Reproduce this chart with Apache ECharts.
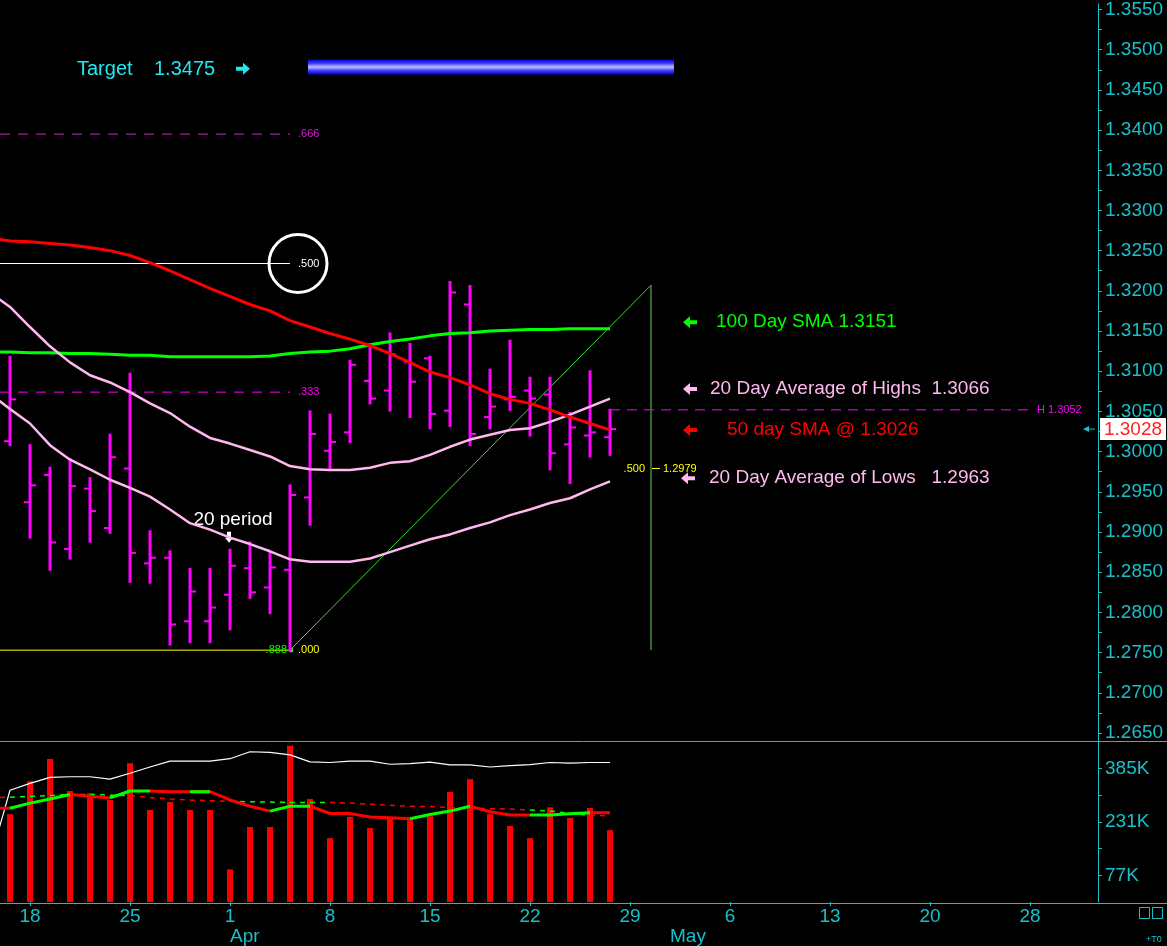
<!DOCTYPE html>
<html>
<head>
<meta charset="utf-8">
<title>EUR/USD daily</title>
<style>
  html, body { margin: 0; padding: 0; background: #000; }
  #main { width: 1167px; height: 946px; }
</style>
</head>
<body>
<div id="main"></div>
<script src="https://cdn.jsdelivr.net/npm/echarts@6.0.0/dist/echarts.min.js"></script>
<script>
// one slot per trading day, slot 0 = Fri 15 Mar
var opens  = [1.3013, 1.2937, 1.2971, 1.2879, 1.2954, 1.2905, 1.2979, 1.2861, 1.2868, 1.2789, 1.2789,
              1.2822, 1.2855, 1.2831, 1.2853, 1.2943, 1.3001, 1.3024, 1.3088, 1.3076, 1.3112,
              1.3116, 1.3051, 1.3183, 1.3043, 1.3065, 1.3076, 1.3071, 1.3009, 1.3020, 1.3018];
var highs  = [1.3118, 1.3008, 1.2980, 1.2991, 1.2967, 1.3021, 1.3097, 1.2901, 1.2876, 1.2854, 1.2854,
              1.2878, 1.2887, 1.2875, 1.2958, 1.3050, 1.3046, 1.3113, 1.3131, 1.3147, 1.3134,
              1.3118, 1.3211, 1.3206, 1.3102, 1.3138, 1.3092, 1.3092, 1.3048, 1.3100, 1.3052];
var lows   = [1.3008, 1.2893, 1.2853, 1.2867, 1.2888, 1.2899, 1.2838, 1.2837, 1.2760, 1.2763, 1.2763,
              1.2779, 1.2818, 1.2799, 1.2753, 1.2909, 1.2977, 1.3012, 1.3060, 1.3051, 1.3043,
              1.3029, 1.3032, 1.3008, 1.3029, 1.3052, 1.3020, 1.2978, 1.2961, 1.2994, 1.2996];
var closes = [1.3065, 1.2958, 1.2887, 1.2957, 1.2926, 1.2993, 1.2874, 1.2868, 1.2785, 1.2826, 1.2806,
              1.2858, 1.2825, 1.2856, 1.2946, 1.3022, 1.3012, 1.3108, 1.3066, 1.3121, 1.3087,
              1.3047, 1.3198, 1.3022, 1.3056, 1.3068, 1.3066, 1.2998, 1.3030, 1.3024, 1.3028];

// averages start one slot earlier (slot -1) so they run into the left edge
var sma100 = [1.3124, 1.3124, 1.3123, 1.3123, 1.3122, 1.3122, 1.3121, 1.3120, 1.3120, 1.3118, 1.3118,
              1.3118, 1.3118, 1.3118, 1.3119, 1.3122, 1.3124, 1.3125, 1.3128, 1.3133, 1.3137,
              1.3140, 1.3144, 1.3147, 1.3148, 1.3150, 1.3151, 1.3152, 1.3152, 1.3153, 1.3153, 1.3153];
var sma50  = [1.3266, 1.3262, 1.3261, 1.3259, 1.3257, 1.3254, 1.3250, 1.3244, 1.3235, 1.3225, 1.3214,
              1.3203, 1.3193, 1.3183, 1.3175, 1.3163, 1.3155, 1.3147, 1.3140, 1.3132, 1.3122,
              1.3111, 1.3099, 1.3092, 1.3083, 1.3072, 1.3065, 1.3060, 1.3052, 1.3043, 1.3035, 1.3027];
var avgHighs = [1.3198, 1.3180, 1.3155, 1.3131, 1.3111, 1.3095, 1.3086, 1.3074, 1.3060, 1.3048, 1.3031,
                1.3017, 1.3010, 1.3002, 1.2994, 1.2982, 1.2978, 1.2977, 1.2977, 1.2980, 1.2986,
                1.2988, 1.2996, 1.3006, 1.3015, 1.3021, 1.3027, 1.3029, 1.3037, 1.3046, 1.3056, 1.3066];
var avgLows  = [1.3072, 1.3053, 1.3035, 1.3008, 1.2990, 1.2978, 1.2965, 1.2955, 1.2944, 1.2928, 1.2911,
                1.2903, 1.2893, 1.2885, 1.2876, 1.2866, 1.2863, 1.2863, 1.2863, 1.2867, 1.2875,
                1.2883, 1.2891, 1.2897, 1.2905, 1.2912, 1.2921, 1.2928, 1.2936, 1.2942, 1.2953, 1.2963];

// volume (K), slot 0..30
var volume = [253, 348, 412, 320, 313, 294, 400, 265, 288, 265, 265,
              94, 216, 216, 450, 297, 184, 245, 213, 245, 236,
              247, 317, 354, 253, 219, 184, 273, 242, 271, 207];
// volume studies, slot -1..30
var volUpper = [120, 322, 342, 359, 361, 361, 354, 371, 389, 406, 406,
                406, 413, 433, 431, 424, 404, 402, 406, 406, 397,
                399, 403, 395, 395, 389, 393, 396, 402, 400, 402, 402];
var volAvg   = [270, 270, 285, 297, 310, 305, 300, 320, 320, 318, 318,
                318, 294, 276, 262, 276, 276, 255, 255, 245, 243,
                240, 252, 262, 276, 260, 251, 251, 251, 254, 257, 257];
// colour of the segment that ends at slot 0..30 (g = green, r = red)
var volAvgUp = ['r','g','g','g','r','r','g','g','r','r','g',
                'r','r','r','g','g','r','r','r','r','r',
                'g','g','g','r','r','r','g','g','g','r'];
var volAvgLong = [301, 302, 304, 307, 310, 310, 308, 307, 301, 297, 294,
                  292, 290, 289, 288, 287, 287, 287, 285, 282, 279,
                  276, 275, 272, 270, 269, 268, 265, 262, 256, 250, 248];
var volAvgLongUp = ['r','g','g','g','g','g','g','r','r','r','r',
                    'r','g','g','g','g','g','r','r','r','r',
                    'r','r','r','r','r','r','g','g','g','r'];

// retracement of the swing
var fibLevels = [1.3395, 1.3234, 1.3074, 1.2753];
var fibNames  = ['.666', '.500', '.333', '.000'];
var swingLow  = [14, 1.2753];
var swingHigh = [32.05, 1.3207];
var midLevel  = 1.2979;
var lastHigh  = 1.3052;
var lastPrice = 1.3028;
var targetPrice = 1.3475;
var noteTexts = ['100 Day SMA 1.3151', '20 Day Average of Highs  1.3066',
                 '50 day SMA @ 1.3026', '20 Day Average of Lows   1.2963'];
var notePrices = [1.3161, 1.3078, 1.3027, 1.2968];

// axis labels
var dayTickIdx  = [1, 6, 11, 16, 21, 26, 31, 36, 41, 46, 51];
var dayTickText = ['18', '25', '1', '8', '15', '22', '29', '6', '13', '20', '28'];
var monthIdx  = [11, 33];
var monthText = ['Apr', 'May'];
var priceLabels = [1.2650, 1.2700, 1.2750, 1.2800, 1.2850, 1.2900, 1.2950, 1.3000, 1.3050, 1.3100,
                   1.3150, 1.3200, 1.3250, 1.3300, 1.3350, 1.3400, 1.3450, 1.3500, 1.3550];
var volLabels = [77, 231, 385];
var volTicks  = [77, 154, 231, 308, 385];

var CYAN = '#18c0c8', MAG = '#ff00ff', PINK = '#ffb8f0', GREEN = '#00ff00', RED = '#ff0000', YEL = '#ffff00';
var FONT = '"Liberation Sans", Arial, sans-serif';
var X_MIN = -0.5, X_MAX = 54.4;

function withSlots(arr, start) {
  return arr.map(function (v, i) { return [i + start, v]; });
}
// keep only the points that belong to segments of one colour (values start at slot -1)
function colourRun(values, flags, want) {
  return values.map(function (v, m) {
    var slot = m - 1;
    var keep = flags[slot] === want || flags[slot + 1] === want;
    return [slot, keep ? v : '-'];
  });
}
var priceTicks = [];
priceLabels.forEach(function (p, i) {
  priceTicks.push(p);
  if (i < priceLabels.length - 1) priceTicks.push((p + priceLabels[i + 1]) / 2);
});
var ohlcData = opens.map(function (o, i) { return [i, o, highs[i], lows[i], closes[i]]; });

function seg(a, b, style) {
  return { type: 'line', shape: { x1: a[0], y1: a[1], x2: b[0], y2: b[1] }, style: style };
}
function txt(x, y, s, color, size, align) {
  return { type: 'text', x: x, y: y, style: { text: s, fill: color, font: size + 'px ' + FONT,
    align: align || 'left', verticalAlign: 'middle' } };
}
function arrowLeft(cx, cy, color) {
  return { type: 'polygon', shape: { points: [[cx - 7, cy], [cx, cy - 6], [cx, cy - 2], [cx + 7, cy - 2],
    [cx + 7, cy + 2], [cx, cy + 2], [cx, cy + 6]] }, style: { fill: color } };
}
function arrowRight(cx, cy, color) {
  return { type: 'polygon', shape: { points: [[cx + 7, cy], [cx, cy - 6], [cx, cy - 2], [cx - 7, cy - 2],
    [cx - 7, cy + 2], [cx, cy + 2], [cx, cy + 6]] }, style: { fill: color } };
}

// levels, swing lines, target band (under the bars)
function renderLevels(params, api) {
  var ch = [];
  var fibColor = ['#d020d0', '#ffffff', MAG, YEL];
  var fibDash = [[10, 8], null, [10, 8], null];
  fibLevels.forEach(function (p, k) {
    var a = api.coord([X_MIN, p]), b = api.coord([swingLow[0], p]);
    ch.push(seg(a, b, { stroke: fibColor[k], lineWidth: 1, lineDash: fibDash[k] }));
    ch.push(txt(b[0] + 8, b[1], fibNames[k], fibColor[k], 11));
  });
  var lo = api.coord(swingLow), hi = api.coord(swingHigh);
  var base = api.coord([swingHigh[0], swingLow[1]]);
  ch.push(seg(lo, hi, { stroke: '#30e030', lineWidth: 1 }));
  ch.push(seg(hi, base, { stroke: '#60d060', lineWidth: 1 }));
  ch.push(txt(lo[0] - 3, lo[1], '.888', GREEN, 11, 'right'));
  ch.push({ type: 'rect', shape: { x: lo[0] - 1, y: lo[1] - 2, width: 4, height: 4 }, style: { fill: GREEN } });
  var mid = api.coord([swingHigh[0], midLevel]);
  ch.push(txt(mid[0] - 6, mid[1], '.500', YEL, 11, 'right'));
  ch.push(seg([mid[0] + 1, mid[1]], [mid[0] + 9, mid[1]], { stroke: YEL, lineWidth: 1 }));
  ch.push(txt(mid[0] + 12, mid[1], '1.2979', YEL, 11));
  var h0 = api.coord([30, lastHigh]), h1 = api.coord([51, lastHigh]);
  ch.push(seg(h0, h1, { stroke: MAG, lineWidth: 1, lineDash: [10, 7] }));
  ch.push(txt(h1[0] + 7, h1[1], 'H 1.3052', MAG, 11));
  var t0 = api.coord([14.9, 1.34877]), t1 = api.coord([33.2, 1.34692]);
  ch.push({ type: 'rect', shape: { x: t0[0], y: t0[1], width: t1[0] - t0[0], height: t1[1] - t0[1] },
    style: { fill: new echarts.graphic.LinearGradient(0, 0, 0, 1, [
      { offset: 0, color: '#0000d0' }, { offset: 0.25, color: '#3a3aff' },
      { offset: 0.5, color: '#c0c0ff' }, { offset: 0.75, color: '#3a3aff' }, { offset: 1, color: '#0000d0' }]) } });
  var tp = api.coord([3.35, targetPrice]);
  ch.push(txt(tp[0], tp[1], 'Target', '#20e8f0', 20));
  ch.push(txt(api.coord([7.2, targetPrice])[0], tp[1], '1.3475', '#20e8f0', 20));
  ch.push(arrowRight(api.coord([11.65, targetPrice])[0], tp[1] - 1, '#20e8f0'));
  return { type: 'group', children: ch };
}

function renderOHLC(params, api) {
  var x = api.value(0);
  var o = api.coord([x, api.value(1)]), h = api.coord([x, api.value(2)]);
  var l = api.coord([x, api.value(3)]), c = api.coord([x, api.value(4)]);
  return { type: 'group', children: [
    seg([h[0], h[1] - 1], [l[0], l[1] + 1], { stroke: MAG, lineWidth: 3 }),
    seg([o[0] - 6, o[1]], [o[0], o[1]], { stroke: MAG, lineWidth: 2 }),
    seg([c[0], c[1]], [c[0] + 6, c[1]], { stroke: MAG, lineWidth: 2 })
  ] };
}

// text notes on top
function renderNotes(params, api) {
  var ch = [];
  var colors = [GREEN, PINK, RED, PINK];
  var gaps = [26, 20, 37, 19];
  notePrices.forEach(function (p, k) {
    var a = api.coord([34, p]);
    ch.push(arrowLeft(a[0] - (k === 3 ? 2 : 0), a[1] + (k === 3 ? 1 : 0), colors[k]));
    ch.push(txt(a[0] + gaps[k], a[1], noteTexts[k], colors[k], 19));
  });
  var cc = api.coord([14.4, fibLevels[1]]);
  ch.push({ type: 'circle', shape: { cx: cc[0], cy: cc[1], r: 29 }, style: { fill: null, stroke: '#ffffff', lineWidth: 3 } });
  var pp = api.coord([10.95, 1.2915]);
  ch.push(txt(pp[0] + 4, pp[1], '20 period', '#ffffff', 19, 'center'));
  var pm = api.coord([10.95, 1.2893]);
  ch.push({ type: 'polygon', shape: { points: [[pm[0] - 2, pm[1] - 6], [pm[0] + 2, pm[1] - 6], [pm[0] + 2, pm[1]],
    [pm[0] + 4, pm[1]], [pm[0], pm[1] + 5], [pm[0] - 4, pm[1]], [pm[0] - 2, pm[1]]] }, style: { fill: '#ffffff' } });
  var lp = api.coord([X_MAX, lastPrice]);
  ch.push({ type: 'rect', shape: { x: lp[0] + 2, y: lp[1] - 11, width: 66, height: 22 }, style: { fill: '#ffffff' } });
  ch.push(txt(lp[0] + 35, lp[1] + 1, '1.3028', '#ff2020', 19, 'center'));
  ch.push(seg([lp[0] - 12, lp[1]], [lp[0] - 3, lp[1]], { stroke: CYAN, lineWidth: 1 }));
  ch.push({ type: 'polygon', shape: { points: [[lp[0] - 15, lp[1]], [lp[0] - 9, lp[1] - 3], [lp[0] - 9, lp[1] + 3]] },
    style: { fill: CYAN } });
  return { type: 'group', children: ch };
}

function volLine(name, values, color, width, dashed) {
  return { type: 'line', name: name, xAxisIndex: 1, yAxisIndex: 1, symbol: 'none', connectNulls: false,
    lineStyle: { color: color, width: width, type: dashed ? [5, 5] : 'solid' }, data: values };
}

var chart = echarts.init(document.getElementById('main'));
chart.setOption({
  backgroundColor: '#000000',
  animation: false,
  textStyle: { fontFamily: FONT },
  grid: [
    { left: 0, top: 0, width: 1098, height: 741 },
    { left: 0, top: 741, width: 1098, height: 162 }
  ],
  xAxis: [
    { gridIndex: 0, type: 'value', min: X_MIN, max: X_MAX, show: false },
    { gridIndex: 1, type: 'value', min: X_MIN, max: X_MAX,
      axisLine: { show: false, onZero: false }, splitLine: { show: false },
      axisTick: { show: true, customValues: dayTickIdx, length: 4, lineStyle: { color: CYAN } },
      axisLabel: { customValues: dayTickIdx, color: CYAN, fontSize: 19, margin: 5,
        formatter: function (v) { return dayTickText[dayTickIdx.indexOf(Math.round(v))]; } } },
    { gridIndex: 1, type: 'value', min: X_MIN, max: X_MAX, position: 'bottom', offset: 20,
      axisLine: { show: false, onZero: false }, axisTick: { show: false }, splitLine: { show: false },
      axisLabel: { customValues: monthIdx, color: CYAN, fontSize: 19, margin: 5, align: 'left',
        formatter: function (v) { return monthText[monthIdx.indexOf(Math.round(v))]; } } }
  ],
  yAxis: [
    { gridIndex: 0, type: 'value', position: 'right', min: 1.2640, max: 1.3557,
      axisLine: { show: true, onZero: false, lineStyle: { color: CYAN } }, splitLine: { show: false },
      axisTick: { show: true, customValues: priceTicks, length: 4, lineStyle: { color: CYAN } },
      axisLabel: { customValues: priceLabels, color: CYAN, fontSize: 19, margin: 7,
        formatter: function (v) { return v.toFixed(4); } } },
    { gridIndex: 1, type: 'value', position: 'right', min: 0, max: 464,
      axisLine: { show: true, onZero: false, lineStyle: { color: CYAN } }, splitLine: { show: false },
      axisTick: { show: true, customValues: volTicks, length: 4, lineStyle: { color: CYAN } },
      axisLabel: { customValues: volLabels, color: CYAN, fontSize: 19, margin: 7,
        formatter: function (v) { return v + 'K'; } } }
  ],
  graphic: [
    { type: 'line', shape: { x1: 0, y1: 741.5, x2: 1167, y2: 741.5 }, style: { stroke: CYAN, lineWidth: 1 } },
    { type: 'line', shape: { x1: 0, y1: 903.5, x2: 1167, y2: 903.5 }, style: { stroke: CYAN, lineWidth: 1 } },
    { type: 'rect', shape: { x: 1139.5, y: 907.5, width: 10, height: 11 }, style: { fill: null, stroke: CYAN, lineWidth: 1 } },
    { type: 'rect', shape: { x: 1152.5, y: 907.5, width: 10, height: 11 }, style: { fill: null, stroke: CYAN, lineWidth: 1 } },
    { type: 'text', x: 1146, y: 935, style: { text: '+T0', fill: CYAN, font: '9px ' + FONT } }
  ],
  series: [
    { type: 'custom', name: 'levels', xAxisIndex: 0, yAxisIndex: 0, clip: false,
      renderItem: renderLevels, data: [[0, 1.3]], silent: true },
    { type: 'custom', name: 'EURUSD', xAxisIndex: 0, yAxisIndex: 0,
      renderItem: renderOHLC, encode: { x: 0, y: [1, 2, 3, 4] }, data: ohlcData },
    { type: 'line', name: '100 Day SMA', xAxisIndex: 0, yAxisIndex: 0, symbol: 'none',
      lineStyle: { color: GREEN, width: 3 }, data: withSlots(sma100, -1) },
    { type: 'line', name: '20 Day Average of Highs', xAxisIndex: 0, yAxisIndex: 0, symbol: 'none',
      lineStyle: { color: PINK, width: 2.5 }, data: withSlots(avgHighs, -1) },
    { type: 'line', name: '20 Day Average of Lows', xAxisIndex: 0, yAxisIndex: 0, symbol: 'none',
      lineStyle: { color: PINK, width: 2.5 }, data: withSlots(avgLows, -1) },
    { type: 'line', name: '50 day SMA', xAxisIndex: 0, yAxisIndex: 0, symbol: 'none',
      lineStyle: { color: RED, width: 3 }, data: withSlots(sma50, -1) },
    { type: 'custom', name: 'notes', xAxisIndex: 0, yAxisIndex: 0, clip: false,
      renderItem: renderNotes, data: [[0, 1.3]], silent: true },
    { type: 'bar', name: 'Volume', xAxisIndex: 1, yAxisIndex: 1, barWidth: 6,
      itemStyle: { color: RED }, data: withSlots(volume, 0) },
    volLine('Volume band', withSlots(volUpper, -1), '#ffffff', 1.2, false),
    volLine('Volume long average (down)', colourRun(volAvgLong, volAvgLongUp, 'r'), RED, 1.5, true),
    volLine('Volume long average (up)', colourRun(volAvgLong, volAvgLongUp, 'g'), GREEN, 1.5, true),
    volLine('Volume average (down)', colourRun(volAvg, volAvgUp, 'r'), RED, 3, false),
    volLine('Volume average (up)', colourRun(volAvg, volAvgUp, 'g'), GREEN, 3, false)
  ]
});
</script>
</body>
</html>
